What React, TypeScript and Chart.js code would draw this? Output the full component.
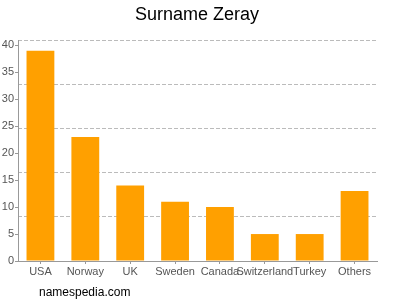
import React, { useEffect, useRef } from "react";
import { Chart, registerables } from "chart.js";

Chart.register(...registerables);

const categories = ["USA", "Norway", "UK", "Sweden", "Canada", "Switzerland", "Turkey", "Others"];
const counts = [39, 23, 14, 11, 10, 5, 5, 13];
const yMax = 41;
const yTickValues = [0, 5, 10, 15, 20, 25, 30, 35, 40];
const gridValues = [0, 8.2, 16.4, 24.6, 32.8, 41];
const titleText = "Surname Zeray";
const footerText = "namespedia.com";

const FONT = "'Liberation Sans', Arial, sans-serif";

const textPlugin = {
  id: "textPlugin",
  afterDraw(chart: any) {
    const ctx = chart.ctx;
    ctx.save();
    ctx.fillStyle = "#000";
    ctx.textBaseline = "alphabetic";
    ctx.font = `18px ${FONT}`;
    ctx.textAlign = "center";
    ctx.fillText(titleText, 197, 20);
    ctx.font = `12px ${FONT}`;
    ctx.textAlign = "left";
    ctx.fillText(footerText, 39, 296);
    ctx.restore();
  },
};

export default function App() {
  const ref = useRef<HTMLCanvasElement>(null);
  useEffect(() => {
    if (!ref.current) return;
    const chart = new Chart(ref.current, {
      type: "bar",
      data: {
        labels: categories,
        datasets: [
          {
            data: counts,
            backgroundColor: "#ffa000",
            borderWidth: 0,
            categoryPercentage: 1,
            barPercentage: 0.62,
          },
        ],
      },
      options: {
        responsive: false,
        animation: false,
        layout: { padding: { left: 0, right: 23, top: 40, bottom: 0 } },
        plugins: { legend: { display: false }, title: { display: false }, tooltip: { enabled: false } },
        scales: {
          x: {
            grid: { display: true, offset: false, drawOnChartArea: false, drawTicks: true, tickLength: 3, color: "#999" },
            border: { display: true, color: "#999" },
            ticks: {
              autoSkip: false,
              maxRotation: 0,
              minRotation: 0,
              color: "#555",
              font: { family: FONT, size: 11 },
              padding: 1,
            },
            afterFit(scale: any) {
              scale.height = 39;
            },
          },
          y: {
            min: 0,
            max: yMax,
            position: "left",
            grid: { display: true, drawOnChartArea: false, drawTicks: true, tickLength: 3, color: "#999" },
            border: { display: true, color: "#999" },
            ticks: {
              color: "#555",
              font: { family: FONT, size: 11 },
              padding: 1,
            },
            afterBuildTicks(scale: any) {
              scale.ticks = yTickValues.map((v) => ({ value: v }));
            },
            afterFit(scale: any) {
              scale.width = 18;
            },
          },
          y2: {
            min: 0,
            max: yMax,
            position: "left",
            grid: { display: true, drawTicks: false, color: "#bbb", lineWidth: 1 },
            border: { display: false, dash: [4, 2] },
            ticks: { display: false },
            afterBuildTicks(scale: any) {
              scale.ticks = gridValues.map((v) => ({ value: v }));
            },
            afterFit(scale: any) {
              scale.width = 0;
            },
          },
        },
      } as any,
      plugins: [textPlugin],
    });
    return () => chart.destroy();
  }, []);
  return (
    <div style={{ position: "absolute", left: 0, top: 0, width: 400, height: 300, background: "#fff" }}>
      <canvas ref={ref} width={400} height={300} style={{ display: "block" }} />
    </div>
  );
}
